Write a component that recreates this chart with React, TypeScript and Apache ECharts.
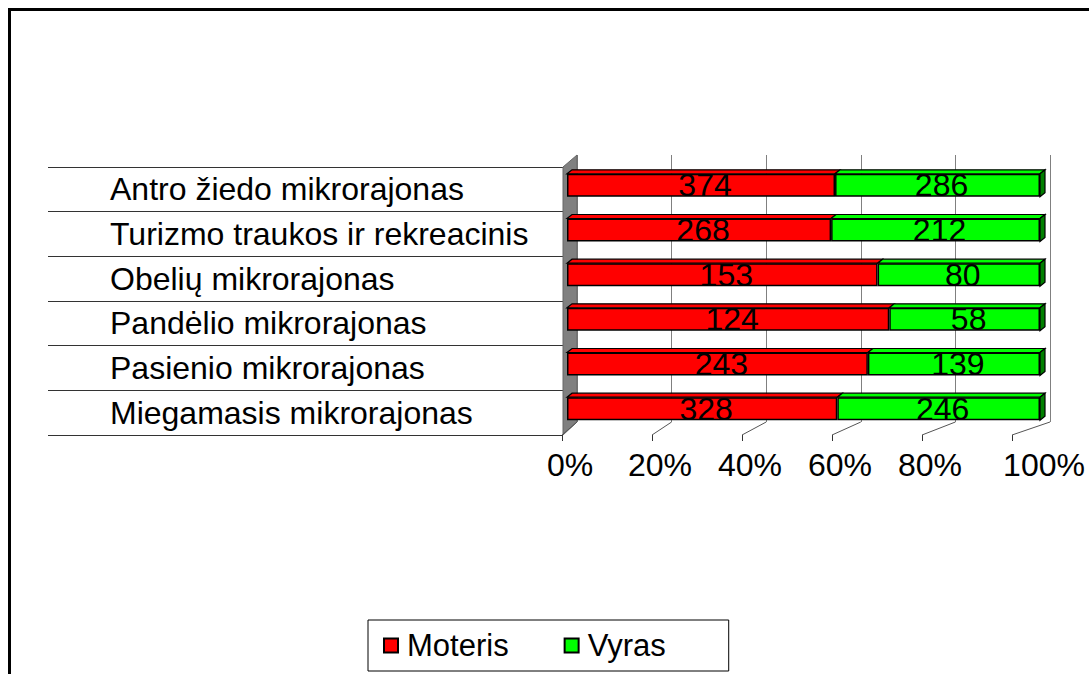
import React, { useEffect, useRef } from "react";
import * as echarts from "echarts";

const categories = [
  "Antro žiedo mikrorajonas",
  "Turizmo traukos ir rekreacinis",
  "Obelių mikrorajonas",
  "Pandėlio mikrorajonas",
  "Pasienio mikrorajonas",
  "Miegamasis mikrorajonas",
];
const seriesNames = ["Moteris", "Vyras"];
const moteris = [374, 268, 153, 124, 243, 328];
const vyras = [286, 212, 80, 58, 139, 246];
const floorTicks = [0, 20, 40, 60, 80, 100];

const FONT = "'Liberation Sans', Arial, sans-serif";

export default function App() {
  const ref = useRef<HTMLDivElement>(null);
  useEffect(() => {
    if (!ref.current) return;
    const chart = echarts.init(ref.current, null, { renderer: "svg" });
    const totals = moteris.map((m, i) => m + vyras[i]);
    const pM = moteris.map((m, i) => (m / totals[i]) * 100);
    const pV = vyras.map((v, i) => (v / totals[i]) * 100);
    const BAR = 23;
    const DX = 5;
    const DY = 4;

    const option: any = {
      animation: false,
      backgroundColor: "#fff",
      textStyle: { fontFamily: FONT },
      grid: [
        { left: 567, right: 49, top: 163, bottom: 243 }, // bars
        { left: 563, right: 49, top: 167, bottom: 239 }, // category table
        { left: 577, right: 39, top: 155, bottom: 252 }, // back wall
        { left: 562, right: 77, top: 300, bottom: 239 }, // front floor axis
      ],
      xAxis: [
        { gridIndex: 0, type: "value", min: 0, max: 100, interval: 20, show: false },
        { gridIndex: 1, type: "value", min: 0, max: 100, show: false },
        {
          gridIndex: 2, type: "value", min: 0, max: 100, interval: 20,
          axisLine: { show: false }, axisTick: { show: false }, axisLabel: { show: false },
          splitLine: { show: true, lineStyle: { color: "#808080", width: 1 } },
        },
        {
          gridIndex: 3, type: "value", min: 0, max: 100, interval: 20,
          axisLine: { show: false },
          axisTick: { show: true, length: 6, lineStyle: { color: "#333", width: 1 } },
          splitLine: { show: false },
          axisLabel: {
            fontSize: 32, color: "#000", margin: 14, fontFamily: FONT,
            formatter: (v: number) => (v === 100 ? "{r|" + v + "%}" : "{n|" + v + "%}"),
            rich: {
              n: { fontSize: 32, color: "#000", fontFamily: FONT, padding: [0, 0, 0, 16] },
              r: { fontSize: 32, color: "#000", fontFamily: FONT, padding: [0, 0, 0, 64] },
            },
          },
        },
      ],
      yAxis: [
        { gridIndex: 0, type: "category", data: categories, inverse: true, show: false },
        {
          gridIndex: 1, type: "category", data: categories, inverse: true,
          axisLine: { show: false },
          axisTick: { show: true, length: 515, lineStyle: { color: "#333", width: 1.2 } },
          axisLabel: { align: "left", margin: 453, fontSize: 32, color: "#000", fontFamily: FONT },
          splitLine: { show: false },
        },
        { gridIndex: 2, type: "value", show: false, splitLine: { show: false } },
        { gridIndex: 3, type: "value", min: 0, max: 1, show: false, splitLine: { show: false } },
      ],
      legend: {
        data: seriesNames,
        left: 368, top: 620,
        icon: "rect",
        itemWidth: 14, itemHeight: 14, itemGap: 55,
        padding: [10, 63, 10, 15],
        borderColor: "#000", borderWidth: 1,
        textStyle: { fontSize: 31, color: "#000", fontFamily: FONT, padding: [0, 0, 0, 4] },
      },
      series: [
        {
          name: seriesNames[0], type: "bar", stack: "s", xAxisIndex: 0, yAxisIndex: 0,
          barWidth: BAR,
          data: pM,
          itemStyle: { color: "#ff0000", borderColor: "#000", borderWidth: 1.5 },
          label: {
            show: true, position: "inside", fontSize: 32, color: "#000", fontFamily: FONT,
            offset: [4, 0],
            formatter: (p: any) => String(moteris[p.dataIndex]),
          },
        },
        {
          name: seriesNames[1], type: "bar", stack: "s", xAxisIndex: 0, yAxisIndex: 0,
          barWidth: BAR,
          data: pV,
          itemStyle: { color: "#00ff00", borderColor: "#000", borderWidth: 1.5 },
          label: {
            show: true, position: "inside", fontSize: 32, color: "#000", fontFamily: FONT,
            offset: [4, 0],
            formatter: (p: any) => String(vyras[p.dataIndex]),
          },
        },
        {
          name: "faces3d", type: "custom", xAxisIndex: 0, yAxisIndex: 0,
          data: pM.map((p, i) => [p, i]),
          encode: { x: 0, y: 1 },
          silent: true,
          renderItem: (params: any, api: any) => {
            const pm = api.value(0);
            const idx = api.value(1);
            const a = api.coord([0, idx]);
            const m = api.coord([pm, idx]);
            const e = api.coord([100, idx]);
            const yT = a[1] - BAR / 2;
            const yB = a[1] + BAR / 2;
            const st = (fill: string) => ({ fill, stroke: "#000", lineWidth: 1.2 });
            return {
              type: "group",
              children: [
                { type: "polygon", shape: { points: [[a[0], yT], [a[0] + DX, yT - DY], [m[0] + DX, yT - DY], [m[0], yT]] }, style: st("#ff0000") },
                { type: "polygon", shape: { points: [[m[0], yT], [m[0] + DX, yT - DY], [e[0] + DX, yT - DY], [e[0], yT]] }, style: st("#00ff00") },
                { type: "polygon", shape: { points: [[e[0], yT], [e[0] + DX, yT - DY], [e[0] + DX, yB - DY], [e[0], yB]] }, style: st("#008000") },
              ],
            };
          },
          z: 3,
        },
        {
          name: "floor", type: "custom", xAxisIndex: 3, yAxisIndex: 3,
          data: floorTicks.map((t) => [t, 0]),
          encode: { x: 0, y: 1 },
          silent: true,
          renderItem: (params: any, api: any) => {
            const v = api.value(0);
            const f = api.coord([v, 0]);
            const bx = 577 + (f[0] - 562) * (473 / 450);
            return {
              type: "line",
              shape: { x1: f[0], y1: f[1], x2: bx, y2: f[1] - 13 },
              style: { stroke: "#555", lineWidth: 1 },
            };
          },
        },
      ],
      graphic: [
        {
          type: "polygon",
          shape: { points: [[563, 167], [577, 155], [577, 422], [563, 435]] },
          style: { fill: "#808080", stroke: "#666", lineWidth: 1 },
          z: 1,
        },
        {
          type: "rect",
          shape: { x: 9.5, y: 9.5, width: 1200, height: 800 },
          style: { fill: "none", stroke: "#000", lineWidth: 3 },
          silent: true,
        },
      ],
    };
    chart.setOption(option);
    return () => chart.dispose();
  }, []);
  return (
    <div
      ref={ref}
      style={{ position: "fixed", left: 0, top: 0, width: 1089, height: 674 }}
    />
  );
}
